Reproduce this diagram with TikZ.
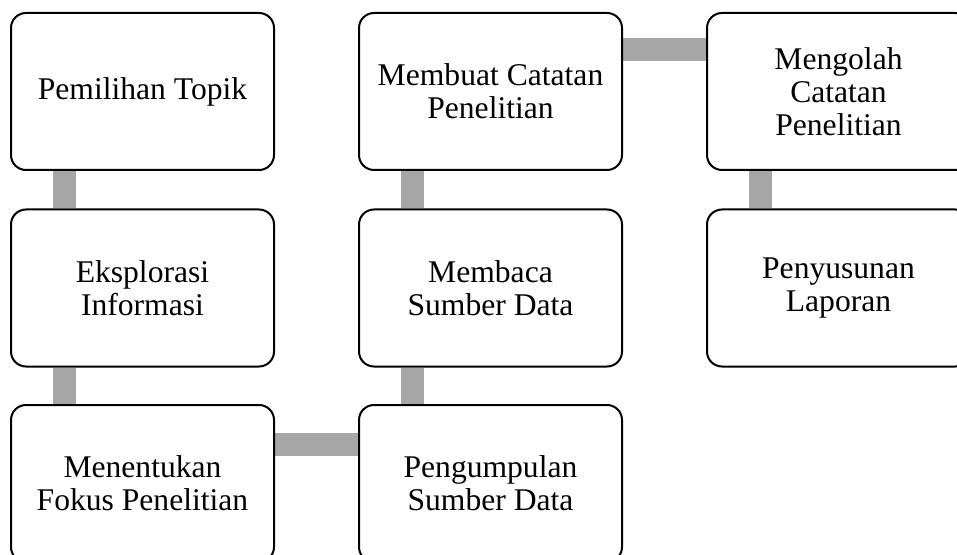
\documentclass[tikz,border=0pt]{standalone}
\usepackage{fontspec}
\setmainfont{Liberation Serif}
\usetikzlibrary{backgrounds}
\definecolor{ink}{HTML}{000000}
\definecolor{bargray}{HTML}{A6A6A6}

\begin{document}
\begin{tikzpicture}[
    x=0.5pt, y=-0.5pt,
    every node/.style={align=center},
    % Step box
    stepbox/.style={rectangle, rounded corners=7.5pt, draw=ink, line width=1pt,
                    fill=white, minimum width=131.5pt, minimum height=78.5pt,
                    inner sep=4pt, font=\fontsize{15.8}{16.4}\selectfont},
    % Gray connector bar
    link/.style={draw=bargray, line width=11.5pt}
]
\useasboundingbox (0,0) rectangle (957,555);
\clip (0,0) rectangle (957,555);

% ========== Column 1 ==========
\node[stepbox] (topik)   at (142.5, 91.5) {Pemilihan Topik};
\node[stepbox] (eksplor) at (142.5, 288)  {Eksplorasi\\Informasi};
\node[stepbox] (fokus)   at (142.5, 483.5) {Menentukan\\Fokus Penelitian};

% ========== Column 2 ==========
\node[stepbox] (catat)  at (490.5, 91.5) {Membuat Catatan\\Penelitian};
\node[stepbox] (baca)   at (490.5, 288)  {Membaca\\Sumber Data};
\node[stepbox] (kumpul) at (490.5, 483.5) {Pengumpulan\\Sumber Data};

% ========== Column 3 ==========
\node[stepbox] (olah)  at (838.5, 91.5) {Mengolah\\Catatan\\Penelitian};
\node[stepbox] (susun) at (838.5, 288)  {Penyusunan\\Laporan};

% ========== Connectors (behind the boxes) ==========
\begin{scope}[on background layer]
\draw[link] ([xshift=27pt]topik.south west) -- ([xshift=27pt]eksplor.north west);
\draw[link] ([xshift=27pt]eksplor.south west) -- ([xshift=27pt]fokus.north west);
\draw[link] ([yshift=-20pt]fokus.north east) -- ([yshift=-20pt]kumpul.north west);
\draw[link] ([xshift=27pt]kumpul.north west) -- ([xshift=27pt]baca.south west);
\draw[link] ([xshift=27pt]baca.north west) -- ([xshift=27pt]catat.south west);
\draw[link] ([yshift=-19pt]catat.north east) -- ([yshift=-19pt]olah.north west);
\draw[link] ([xshift=27pt]olah.south west) -- ([xshift=27pt]susun.north west);
\end{scope}

\end{tikzpicture}
\end{document}
